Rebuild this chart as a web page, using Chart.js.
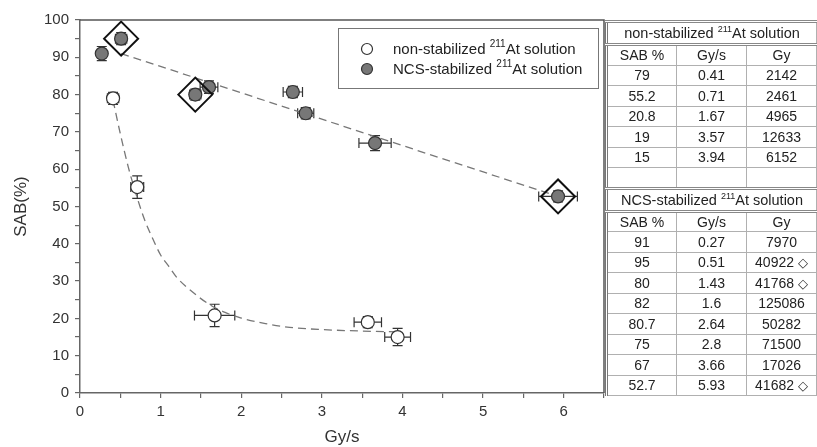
<!DOCTYPE html>
<html>
<head>
<meta charset="utf-8">
<script src="https://cdn.jsdelivr.net/npm/chart.js@4.4.1/dist/chart.umd.min.js"></script>
<style>
  body { margin: 0; background: #fff; }
  #wrap { position: relative; width: 817px; height: 447px; overflow: hidden; }
  #chart-box { position: absolute; left: 0; top: 0; width: 607px; height: 447px; }
  #data-table {
    position: absolute; left: 605px; top: 20px; width: 212px; height: 374px;
    border-collapse: collapse; table-layout: fixed;
    font-family: "Liberation Sans", Arial, sans-serif; font-size: 14px; color: #222;
    border-left: 3px double #777;
  }
  #data-table td { border: 1px solid #b0b0b0; text-align: center; padding: 0; white-space: nowrap; }
  #data-table tr { height: 20.5px; }
  #data-table tr.title-row { height: 23px; }
  #data-table td.title { border-top: 3px double #888; border-bottom: 3px double #888; font-size: 14.5px; }
  #data-table sup { font-size: 9px; vertical-align: 6px; line-height: 0; }
  #data-table .mark { font-family: "DejaVu Sans", sans-serif; font-size: 13px; }
</style>
</head>
<body>
<div id="wrap">
  <div id="chart-box"><canvas id="sab-chart"></canvas></div>
  <table id="data-table"><tbody id="table-body"></tbody></table>
</div>
<script>
/* SAB(%) vs dose rate, 211At solutions */

// non-stabilized solution
const nonStabSAB  = [79, 55.2, 20.8, 19, 15];
const nonStabRate = [0.41, 0.71, 1.67, 3.57, 3.94];
const nonStabDose = ["2142", "2461", "4965", "12633", "6152"];
const nonStabXErr = [0.07, 0.08, 0.25, 0.17, 0.16];
const nonStabYErr = [1.6, 3, 3, 1.5, 2.3];

// NCS-stabilized solution
const ncsSAB    = [91, 95, 80, 82, 80.7, 75, 67, 52.7];
const ncsRate   = [0.27, 0.51, 1.43, 1.6, 2.64, 2.8, 3.66, 5.93];
const ncsDose   = ["7970", "40922", "41768", "125086", "50282", "71500", "17026", "41682"];
const ncsMarked = [false, true, true, false, false, false, false, true];
const ncsXErr   = [0.03, 0.07, 0.07, 0.11, 0.12, 0.1, 0.2, 0.24];
const ncsYErr   = [1.9, 1.6, 1.5, 1.7, 1.5, 1.5, 2, 1.5];

// dashed fit lines
const ncsFitX = [0.51, 5.93];
const ncsFitY = [91, 52.7];
const nonStabFitX = [0.41, 0.5, 0.6, 0.7, 0.8, 0.9, 1.0, 1.1, 1.2, 1.4, 1.6, 1.8, 2.0, 2.3, 2.6, 3.0, 3.5, 3.94];
const nonStabFitY = [78.5, 69.5, 60.5, 53, 46.5, 41.5, 37, 34, 31, 27, 23.8, 21.6, 20.1, 18.6, 17.6, 17, 16.6, 16.4];

// axes
const xTickLabels = [0, 1, 2, 3, 4, 5, 6];
const yTickLabels = [0, 10, 20, 30, 40, 50, 60, 70, 80, 90, 100];

const FONT = '"Liberation Sans", Arial, sans-serif';
const toPoints = (xs, ys) => xs.map((x, i) => ({ x, y: ys[i] }));

/* ---------- Table ---------- */

function renderTable() {
    const tbody = document.getElementById("table-body");
    const row = cells => `<tr>${cells.map(c => `<td>${c}</td>`).join("")}</tr>`;
    const title = name => `<tr class="title-row"><td class="title" colspan="3">${name} <sup>211</sup>At solution</td></tr>`;
    const head = row(["SAB %", "Gy/s", "Gy"]);

    let html = title("non-stabilized") + head;
    nonStabSAB.forEach((s, i) => { html += row([s, nonStabRate[i], nonStabDose[i]]); });
    html += row(["", "", ""]);
    html += title("NCS-stabilized") + head;
    ncsSAB.forEach((s, i) => {
        const dose = ncsMarked[i] ? `${ncsDose[i]} <span class="mark">◇</span>` : ncsDose[i];
        html += row([s, ncsRate[i], dose]);
    });
    tbody.innerHTML = html;
}

/* ---------- Plugins ---------- */

const errorBars = {
    id: "errorBars",
    beforeDatasetsDraw(chart) {
        const { ctx, scales: { x, y } } = chart;
        const cap = 5;
        const sets = [
            [nonStabRate, nonStabSAB, nonStabXErr, nonStabYErr],
            [ncsRate, ncsSAB, ncsXErr, ncsYErr],
        ];
        ctx.save();
        ctx.strokeStyle = "#333";
        ctx.lineWidth = 1.2;
        sets.forEach(([xs, ys, xe, ye]) => {
            xs.forEach((xv, i) => {
                const px = x.getPixelForValue(xv), py = y.getPixelForValue(ys[i]);
                const xl = x.getPixelForValue(xv - xe[i]), xr = x.getPixelForValue(xv + xe[i]);
                const yt = y.getPixelForValue(ys[i] + ye[i]), yb = y.getPixelForValue(ys[i] - ye[i]);
                ctx.beginPath();
                ctx.moveTo(xl, py); ctx.lineTo(xr, py);
                ctx.moveTo(xl, py - cap); ctx.lineTo(xl, py + cap);
                ctx.moveTo(xr, py - cap); ctx.lineTo(xr, py + cap);
                ctx.moveTo(px, yt); ctx.lineTo(px, yb);
                ctx.moveTo(px - cap, yt); ctx.lineTo(px + cap, yt);
                ctx.moveTo(px - cap, yb); ctx.lineTo(px + cap, yb);
                ctx.stroke();
            });
        });
        ctx.restore();
    }
};

const frameAndLegend = {
    id: "frameAndLegend",
    afterDraw(chart) {
        const { ctx, chartArea: a } = chart;
        ctx.save();
        // top + right frame
        ctx.strokeStyle = "#555";
        ctx.lineWidth = 1.5;
        ctx.beginPath();
        ctx.moveTo(a.left, a.top); ctx.lineTo(a.right, a.top); ctx.lineTo(a.right, a.bottom);
        ctx.stroke();

        // legend box
        const bx = 338, by = a.top + 8, bw = 260, bh = 60;
        ctx.strokeStyle = "#777";
        ctx.lineWidth = 1;
        ctx.strokeRect(bx + 0.5, by + 0.5, bw, bh);

        const entries = [
            { name: "non-stabilized ", fill: "#fff", y: by + 21 },
            { name: "NCS-stabilized ", fill: "#777", y: by + 41 },
        ];
        entries.forEach(e => {
            ctx.beginPath();
            ctx.arc(bx + 29, e.y, 5.5, 0, Math.PI * 2);
            ctx.fillStyle = e.fill; ctx.fill();
            ctx.strokeStyle = "#333"; ctx.lineWidth = 1.2; ctx.stroke();

            ctx.fillStyle = "#222";
            ctx.textBaseline = "middle";
            ctx.font = `15px ${FONT}`;
            let tx = bx + 55;
            ctx.fillText(e.name, tx, e.y + 1);
            tx += ctx.measureText(e.name).width;
            ctx.font = `10px ${FONT}`;
            ctx.fillText("211", tx, e.y - 5);
            tx += ctx.measureText("211").width;
            ctx.font = `15px ${FONT}`;
            ctx.fillText("At solution", tx, e.y + 1);
        });
        ctx.restore();
    }
};

/* ---------- Chart ---------- */

function renderChart() {
    const ctx = document.getElementById("sab-chart");
    new Chart(ctx, {
        type: "scatter",
        data: {
            datasets: [
                {
                    label: "marked",
                    data: toPoints(ncsRate, ncsSAB).filter((p, i) => ncsMarked[i]),
                    pointStyle: "rectRot",
                    pointRadius: 17,
                    backgroundColor: "rgba(0,0,0,0)",
                    borderColor: "#111",
                    borderWidth: 2,
                    clip: false,
                },
                {
                    label: "NCS-stabilized",
                    data: toPoints(ncsRate, ncsSAB),
                    pointRadius: 6.5,
                    backgroundColor: "#777",
                    borderColor: "#333",
                    borderWidth: 1.2,
                },
                {
                    label: "non-stabilized",
                    data: toPoints(nonStabRate, nonStabSAB),
                    pointRadius: 6.5,
                    backgroundColor: "#fff",
                    borderColor: "#333",
                    borderWidth: 1.2,
                },
                {
                    label: "NCS fit",
                    type: "line",
                    data: toPoints(ncsFitX, ncsFitY),
                    borderColor: "#777",
                    borderWidth: 1.3,
                    borderDash: [8, 5],
                    pointRadius: 0,
                    fill: false,
                },
                {
                    label: "non-stabilized fit",
                    type: "line",
                    data: toPoints(nonStabFitX, nonStabFitY),
                    borderColor: "#777",
                    borderWidth: 1.3,
                    borderDash: [8, 5],
                    pointRadius: 0,
                    cubicInterpolationMode: "monotone",
                    fill: false,
                },
            ]
        },
        options: {
            responsive: true,
            maintainAspectRatio: false,
            animation: false,
            layout: { autoPadding: false, padding: { top: 20, right: 3, left: 0, bottom: 0 } },
            plugins: {
                legend: { display: false },
                tooltip: { enabled: false },
            },
            scales: {
                x: {
                    type: "linear",
                    min: 0,
                    max: 6.5,
                    afterFit: s => { s.height = 54; s.paddingRight = 0; s.paddingLeft = 0; },
                    ticks: {
                        stepSize: 0.5,
                        autoSkip: false,
                        maxRotation: 0,
                        padding: 5,
                        color: "#333",
                        font: { family: FONT, size: 15 },
                        callback: v => xTickLabels.includes(v) ? v : "",
                    },
                    grid: { drawOnChartArea: false, tickLength: 5, color: "#666", lineWidth: 1.2 },
                    border: { color: "#666", width: 1.5 },
                    title: { display: true, text: "Gy/s", color: "#333", font: { family: FONT, size: 17 }, padding: { top: 0, bottom: -1 } },
                },
                y: {
                    min: 0,
                    max: 100,
                    afterFit: s => { s.width = 80; },
                    ticks: {
                        stepSize: 5,
                        autoSkip: false,
                        padding: 6,
                        color: "#333",
                        font: { family: FONT, size: 15 },
                        callback: v => yTickLabels.includes(v) ? v : "",
                    },
                    grid: { drawOnChartArea: false, tickLength: 5, color: "#666", lineWidth: 1.2 },
                    border: { color: "#666", width: 1.5 },
                    title: { display: true, text: "SAB(%)", color: "#333", font: { family: FONT, size: 17 }, padding: { top: 11, bottom: 0 } },
                },
            }
        },
        plugins: [errorBars, frameAndLegend],
    });
}

renderTable();
renderChart();
</script>
</body>
</html>
